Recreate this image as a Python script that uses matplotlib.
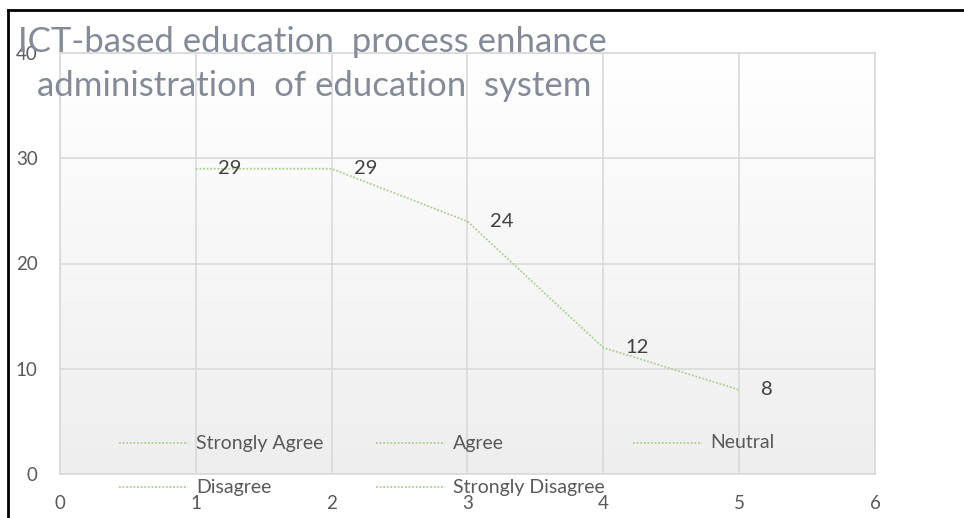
import numpy as np
import matplotlib
matplotlib.use("Agg")
import matplotlib.pyplot as plt
from matplotlib.lines import Line2D

# Survey responses
categories = ["Strongly Agree", "Agree", "Neutral", "Disagree", "Strongly Disagree"]
positions = [1, 2, 3, 4, 5]
counts = [29, 29, 24, 12, 8]
x_ticks = [0, 1, 2, 3, 4, 5, 6]
y_ticks = [0, 10, 20, 30, 40]
title_lines = ["ICT-based education  process enhance",
               "administration  of education  system"]

W, H, DPI = 964, 518, 100
LINE_COLOR = "#a9d18e"
TEXT_COLOR = "#595959"
GRID_COLOR = "#d9d9d9"
TITLE_COLOR = "#838a98"
FONT = ["Lato", "DejaVu Sans"]

plt.rcParams["font.family"] = FONT

fig = plt.figure(figsize=(W / DPI, H / DPI), dpi=DPI)
fig.patch.set_facecolor("white")

# plot area in pixel units
left, right, top, bottom = 60, 875, 53, 474
ax = fig.add_axes([left / W, 1 - bottom / H, (right - left) / W, (bottom - top) / H])
ax.set_xlim(0, 6)
ax.set_ylim(0, 40)

# soft vertical gradient behind the plot
grad = np.linspace(0, 1, 256).reshape(-1, 1)
ax.imshow(grad, extent=[0, 6, 0, 40], aspect="auto", origin="upper",
          cmap=matplotlib.colors.LinearSegmentedColormap.from_list(
              "bg", ["#ffffff", "#eeeeee"]), zorder=0)

ax.set_xticks(x_ticks)
ax.set_yticks(y_ticks)
ax.grid(True, color=GRID_COLOR, linewidth=1.2, zorder=1)
for s in ax.spines.values():
    s.set_color(GRID_COLOR)
    s.set_linewidth(1.2)
ax.tick_params(length=0, colors=TEXT_COLOR, labelsize=13.5)
ax.tick_params(axis="y", pad=16)
ax.tick_params(axis="x", pad=15)

ax.plot(positions, counts, color=LINE_COLOR, linestyle=(0, (1, 1)),
        linewidth=1.3, zorder=3)

for x, y in zip(positions, counts):
    ax.annotate(str(y), (x, y), xytext=(16, 0), textcoords="offset points",
                ha="left", va="center", fontsize=14.5, color="#404040", zorder=4)

# title
fig.text(18 / W, 1 - 52 / H, title_lines[0], fontsize=25, color=TITLE_COLOR,
         ha="left", va="baseline")
fig.text(37 / W, 1 - 96 / H, title_lines[1], fontsize=25, color=TITLE_COLOR,
         ha="left", va="baseline")

# legend laid out in rows of three
for i, name in enumerate(categories):
    row, col = divmod(i, 3)
    x0 = 119 + col * 257
    y0 = 443 + row * 44
    fig.add_artist(Line2D([x0 / W, (x0 + 69) / W], [1 - y0 / H, 1 - y0 / H],
                          color=LINE_COLOR, linestyle=(0, (1, 1)), linewidth=1.3))
    fig.text((x0 + 77) / W, 1 - y0 / H, name, fontsize=14, color=TEXT_COLOR,
             ha="left", va="center")

# outer frame (left and top edges)
fig.add_artist(Line2D([8 / W, 8 / W], [0, 1 - 10 / H], color="black", linewidth=2))
fig.add_artist(Line2D([8 / W, 1], [1 - 10 / H, 1 - 10 / H], color="black", linewidth=2))

fig.savefig("out.png", dpi=DPI)
